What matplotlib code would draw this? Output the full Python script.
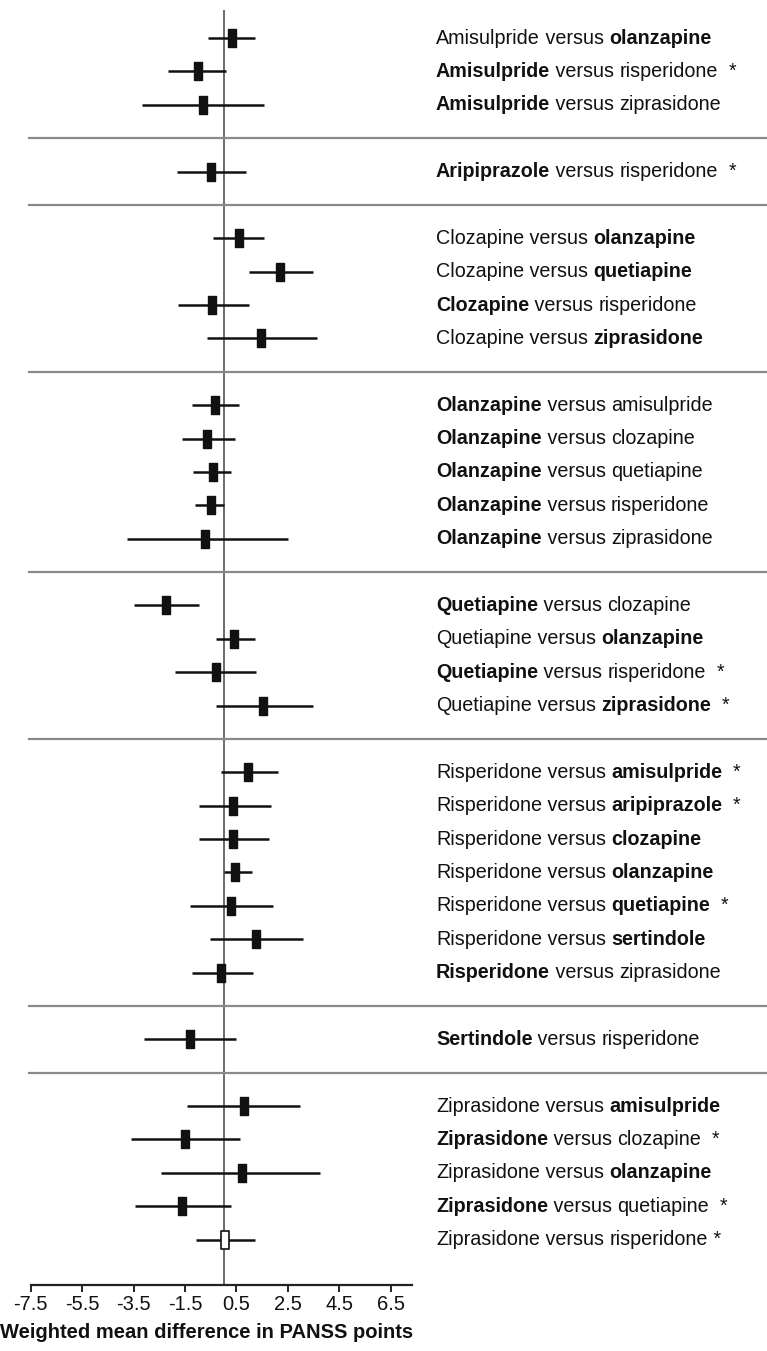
import matplotlib
matplotlib.use("Agg")
import matplotlib.pyplot as plt
from matplotlib.transforms import blended_transform_factory
from matplotlib.path import Path

plt.rcParams['font.family'] = ['Liberation Sans', 'DejaVu Sans']

# ---- data ----
group_sizes = [3, 1, 4, 5, 4, 7, 1, 5]
first_drug = ["Amisulpride", "Amisulpride", "Amisulpride",
              "Aripiprazole",
              "Clozapine", "Clozapine", "Clozapine", "Clozapine",
              "Olanzapine", "Olanzapine", "Olanzapine", "Olanzapine", "Olanzapine",
              "Quetiapine", "Quetiapine", "Quetiapine", "Quetiapine",
              "Risperidone", "Risperidone", "Risperidone", "Risperidone",
              "Risperidone", "Risperidone", "Risperidone",
              "Sertindole",
              "Ziprasidone", "Ziprasidone", "Ziprasidone", "Ziprasidone", "Ziprasidone"]
second_drug = ["olanzapine", "risperidone", "ziprasidone",
               "risperidone",
               "olanzapine", "quetiapine", "risperidone", "ziprasidone",
               "amisulpride", "clozapine", "quetiapine", "risperidone", "ziprasidone",
               "clozapine", "olanzapine", "risperidone", "ziprasidone",
               "amisulpride", "aripiprazole", "clozapine", "olanzapine",
               "quetiapine", "sertindole", "ziprasidone",
               "risperidone",
               "amisulpride", "clozapine", "olanzapine", "quetiapine", "risperidone"]
# which drug is bold: 1 = first, 2 = second, 0 = none
bold_side = [2, 1, 1,
             1,
             2, 2, 1, 2,
             1, 1, 1, 1, 1,
             1, 2, 1, 2,
             2, 2, 2, 2, 2, 2, 1,
             1,
             2, 1, 2, 1, 0]
star_suffix = ["", "  *", "",
               "  *",
               "", "", "", "",
               "", "", "", "", "",
               "", "", "  *", "  *",
               "  *", "  *", "", "", "  *", "", "",
               "",
               "", "  *", "", "  *", " *"]
estimate = [0.34, -0.99, -0.79,
            -0.49,
            0.61, 2.19, -0.43, 1.46,
            -0.35, -0.65, -0.41, -0.48, -0.71,
            -2.23, 0.39, -0.31, 1.55,
            0.96, 0.37, 0.38, 0.46, 0.29, 1.27, -0.08,
            -1.32,
            0.78, -1.49, 0.71, -1.62, 0.04]
ci_low = [-0.61, -2.14, -3.17,
          -1.79,
          -0.39, 1.01, -1.77, -0.65,
          -1.21, -1.61, -1.18, -1.10, -3.76,
          -3.49, -0.28, -1.90, -0.28,
          -0.10, -0.95, -0.96, 0.03, -1.31, -0.51, -1.23,
          -3.08,
          -1.42, -3.58, -2.43, -3.43, -1.06]
ci_high = [1.23, 0.10, 1.59,
           0.88,
           1.59, 3.50, 1.00, 3.65,
           0.60, 0.43, 0.29, 0.03, 2.49,
           -0.96, 1.24, 1.28, 3.50,
           2.13, 1.83, 1.78, 1.10, 1.92, 3.10, 1.14,
           0.48,
           2.98, 0.65, 3.76, 0.29, 1.24]
open_marker = [False] * 29 + [True]
tick_values = [-7.5, -5.5, -3.5, -1.5, 0.5, 2.5, 4.5, 6.5]
xlabel_text = "Weighted mean difference in PANSS points"

# ---- layout: row slots with a gap slot between groups ----
slots = []
separators = []
s = 0
for gi, n in enumerate(group_sizes):
    for _ in range(n):
        slots.append(s)
        s += 1
    if gi < len(group_sizes) - 1:
        separators.append(s)
        s += 1

W, H = 767, 1351
fig = plt.figure(figsize=(W / 100, H / 100), dpi=100)
ax_left, ax_right = 30.7 / W, 411.7 / W
ax_bottom, ax_top = 1 - 1285 / H, 1 - 10 / H
ax = fig.add_axes([ax_left, ax_bottom, ax_right - ax_left, ax_top - ax_bottom])
ax.set_xlim(-7.5, 7.32)
ax.set_ylim(37.36, -0.84)

for sp in ['top', 'right', 'left']:
    ax.spines[sp].set_visible(False)
ax.spines['bottom'].set_linewidth(1.6)
ax.spines['bottom'].set_color('#222222')
ax.set_yticks([])
ax.set_xticks(tick_values)
ax.set_xticklabels([f"{v:g}" for v in tick_values])
ax.tick_params(axis='x', length=5, width=1.4, color='#222222', labelsize=14.5,
               pad=2, labelcolor='#111111')

# zero line
ax.axvline(0, color='#444444', lw=1.1, zorder=1)

# separators spanning the full width
trans = blended_transform_factory(fig.transFigure, ax.transData)
for sep in separators:
    ax.plot([29 / W, 1.0], [sep, sep], transform=trans, color='#8a8a8a', lw=1.6,
            clip_on=False, zorder=1)

# rectangle marker
rect = Path([(-0.47, -1), (0.47, -1), (0.47, 1), (-0.47, 1), (-0.47, -1)],
            [Path.MOVETO, Path.LINETO, Path.LINETO, Path.LINETO, Path.CLOSEPOLY])

for i in range(len(estimate)):
    y = slots[i]
    ax.plot([ci_low[i], ci_high[i]], [y, y], color='#111111', lw=1.8,
            solid_capstyle='butt', zorder=2)
    if open_marker[i]:
        ax.plot(estimate[i], y, marker=rect, ms=12.5, mfc='white', mec='#111111',
                mew=1.2, zorder=3)
    else:
        ax.plot(estimate[i], y, marker=rect, ms=12.5, mfc='#111111', mec='#111111',
                mew=1.0, zorder=3)

# labels on the right
text_x = 436 / W
ttrans = blended_transform_factory(fig.transFigure, ax.transData)
fs = 14.2
for i in range(len(estimate)):
    y = slots[i]
    w1 = 'bold' if bold_side[i] == 1 else 'normal'
    w2 = 'bold' if bold_side[i] == 2 else 'normal'
    t1 = ax.text(text_x, y, first_drug[i], transform=ttrans, fontsize=fs,
                 fontweight=w1, va='center', ha='left', color='#111111')
    t2 = ax.annotate(" versus ", xy=(1, 0), xycoords=t1, va='bottom', ha='left',
                     fontsize=fs, fontweight='normal', color='#111111')
    t3 = ax.annotate(second_drug[i], xy=(1, 0), xycoords=t2, va='bottom', ha='left',
                     fontsize=fs, fontweight=w2, color='#111111')
    if star_suffix[i]:
        ax.annotate(star_suffix[i], xy=(1, 0), xycoords=t3, va='bottom', ha='left',
                    fontsize=fs, fontweight='normal', color='#111111')

fig.text(0.0, 1 - 1333 / H, xlabel_text, fontsize=14.5, fontweight='bold',
         ha='left', va='center', color='#111111')

fig.savefig("out.png", dpi=100)
